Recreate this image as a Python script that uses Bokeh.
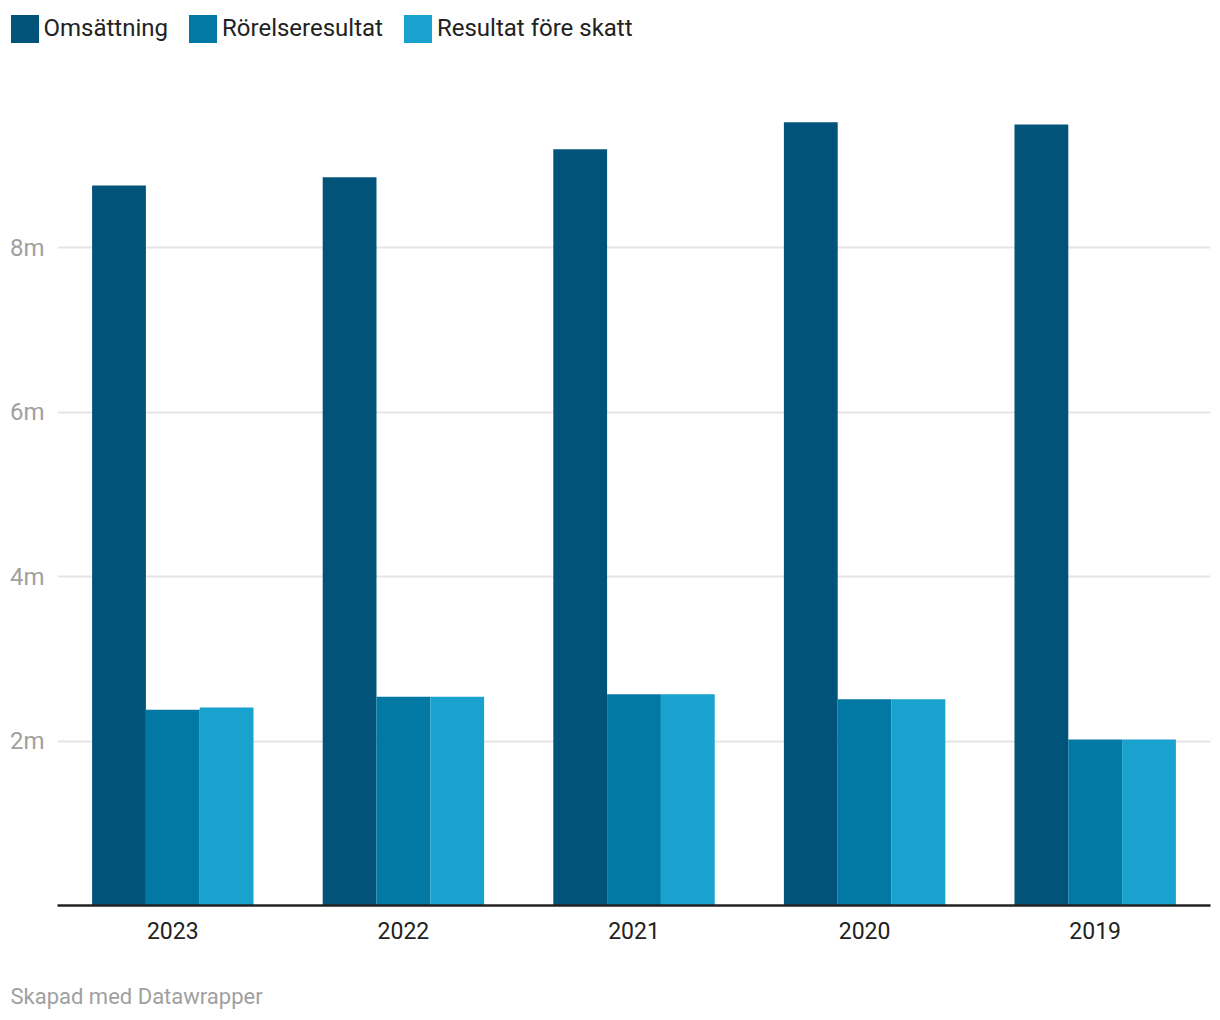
from bokeh.plotting import figure
from bokeh.models import (FactorRange, Range1d, FixedTicker, Legend, LegendItem,
                          Label, ColumnDataSource)
from bokeh.transform import dodge
from bokeh.embed import file_html
from bokeh.resources import INLINE

# ---- data (values in millions) ----
years = ["2023", "2022", "2021", "2020", "2019"]
omsattning = [8.76, 8.86, 9.20, 9.53, 9.50]
rorelseresultat = [2.38, 2.54, 2.57, 2.51, 2.02]
resultat_fore_skatt = [2.41, 2.54, 2.57, 2.51, 2.02]
series_names = ["Omsättning", "Rörelseresultat", "Resultat före skatt"]
y_ticks = [2, 4, 6, 8]
y_tick_labels = {2: "2m", 4: "4m", 6: "6m", 8: "8m"}

colors = ["#015379", "#0279a4", "#19a2ce"]
FONT = "Roboto"

source = ColumnDataSource(dict(year=years, oms=omsattning,
                               ror=rorelseresultat, res=resultat_fore_skatt))
cols = ["oms", "ror", "res"]

W = 1216
LEG_H = 56          # legend strip: page y 0..56
MAIN_H = 904        # main chart:   page y 56..960
FOOT_H = 56         # footer strip: page y 960..1016
FRAME_LEFT, FRAME_RIGHT = 57, 1210
FRAME_BOTTOM = 905 - LEG_H
px_per_unit = 82.2


def bare(fig):
    fig.outline_line_color = None
    fig.xgrid.visible = False
    fig.ygrid.visible = False
    fig.background_fill_color = "white"
    fig.border_fill_color = "white"
    return fig


# ---------- legend strip ----------
lg = bare(figure(width=W, height=LEG_H, x_range=FactorRange(*years),
                 y_range=Range1d(100, 101), output_backend="svg",
                 toolbar_location=None, min_border_left=0, min_border_right=0,
                 min_border_top=0, min_border_bottom=0,
                 x_axis_location=None, y_axis_location=None))
# bars of the real data, kept outside the strip's view; only their legend glyphs show
legend_renderers = [lg.vbar(x="year", top=c, width=0.2, source=source,
                            color=col, line_color=None)
                    for c, col in zip(cols, colors)]
legend = Legend(items=[LegendItem(label=n, renderers=[r])
                       for n, r in zip(series_names, legend_renderers)],
                orientation="horizontal", location=(6.5, 10.5),
                glyph_width=35, glyph_height=35, label_height=35,
                label_standoff=2, spacing=17, padding=0, margin=0,
                border_line_color=None, background_fill_alpha=0,
                label_text_font=FONT, label_text_font_size="24px",
                label_text_color="#222222", label_text_baseline="middle")
lg.add_layout(legend, "center")

# ---------- main chart ----------
p = figure(width=W, height=MAIN_H, x_range=FactorRange(*years),
           y_range=Range1d(0, FRAME_BOTTOM / px_per_unit),
           output_backend="svg", toolbar_location=None,
           min_border_left=FRAME_LEFT, min_border_right=W - FRAME_RIGHT,
           min_border_top=0, min_border_bottom=MAIN_H - FRAME_BOTTOM)
p.outline_line_color = None
p.background_fill_color = "white"
p.border_fill_color = "white"

bw = 0.7 / 3
for c, col, off in zip(cols, colors, [-bw, 0, bw]):
    p.vbar(x=dodge("year", off, range=p.x_range), top=c, width=bw,
           source=source, color=col, line_color=None)

p.xgrid.grid_line_color = None
p.ygrid.grid_line_color = "#e5e5e5"
p.ygrid.grid_line_width = 2
p.yaxis.ticker = FixedTicker(ticks=y_ticks)
p.yaxis.major_label_overrides = y_tick_labels
p.yaxis.axis_line_color = None
p.yaxis.major_tick_line_color = None
p.yaxis.minor_tick_line_color = None
p.yaxis.major_tick_out = 0
p.yaxis.major_tick_in = 0
p.yaxis.major_label_standoff = 13
p.yaxis.major_label_text_font = FONT
p.yaxis.major_label_text_font_size = "24px"
p.yaxis.major_label_text_color = "#a0a0a0"

p.xaxis.axis_line_color = "#222222"
p.xaxis.axis_line_width = 2.5
p.xaxis.major_tick_line_color = None
p.xaxis.minor_tick_line_color = None
p.xaxis.major_tick_out = 0
p.xaxis.major_tick_in = 0
p.xaxis.major_label_standoff = 16
p.xaxis.major_label_text_font = FONT
p.xaxis.major_label_text_font_size = "23px"
p.xaxis.major_label_text_color = "#222222"

# ---------- footer strip ----------
ft = bare(figure(width=W, height=FOOT_H, x_range=Range1d(0, 1),
                 y_range=Range1d(0, 1), output_backend="svg",
                 toolbar_location=None, min_border_left=0, min_border_right=0,
                 min_border_top=0, min_border_bottom=0,
                 x_axis_location=None, y_axis_location=None))
ft.add_layout(Label(x=10, y=FOOT_H - 36, x_units="screen", y_units="screen",
                    text="Skapad med Datawrapper", text_font=FONT,
                    text_font_size="22px", text_color="#a0a0a0",
                    text_baseline="middle", text_align="left"))

open("out.html", "w").write(file_html([lg, p, ft], INLINE))
